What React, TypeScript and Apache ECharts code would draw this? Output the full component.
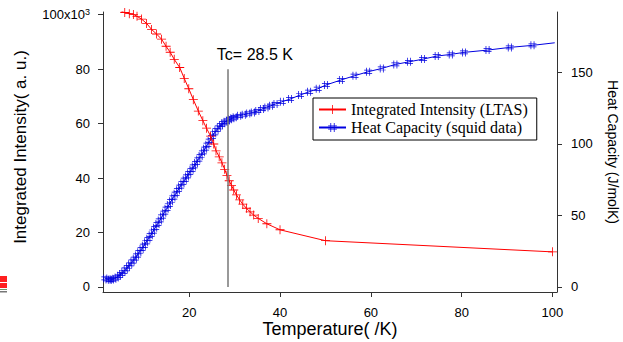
import React, { useEffect, useRef } from 'react';
import * as echarts from 'echarts';

// Integrated Intensity (LTAS), units of 10^3 a.u.
const redTemps = [4.7, 5.8, 6.8, 7.7, 8.5, 9.5, 10.6, 11.7, 12.8, 13.9, 14.9, 15.8, 16.7, 17.9, 18.9, 19.9, 20.9, 22.0, 23.0, 23.8, 24.7, 25.4, 25.9, 26.6, 27.2, 27.8, 28.3, 28.8, 29.3, 29.8, 30.4, 31.1, 31.8, 32.6, 33.4, 34.2, 35.2, 37.1, 40, 50, 100];
const intensity = [101.6, 100.8, 100.4, 100.1, 99.4, 98.4, 96.8, 94.6, 92.9, 91.0, 88.4, 86.2, 83.6, 80.6, 76.6, 72.8, 68.8, 64.6, 61.1, 58.3, 55.4, 52.5, 50.0, 47.8, 45.6, 43.2, 41.0, 39.0, 37.3, 35.6, 33.8, 32.0, 30.4, 28.9, 27.6, 26.4, 25.2, 23.2, 21.0, 17.0, 12.9];

// Heat Capacity (squid data), J/molK
const hcTemps = [1.5, 2, 2.5, 3, 3.5, 4, 4.5, 5, 5.5, 6, 6.5, 7, 7.5, 8, 8.5, 9, 9.5, 10, 10.5, 11, 11.5, 12, 12.5, 13, 13.5, 14, 14.5, 15, 15.5, 16, 16.5, 17, 17.5, 18, 18.5, 19, 19.5, 20, 20.5, 21, 21.5, 22, 22.5, 23, 23.5, 24, 24.5, 25, 25.5, 26, 26.5, 27, 27.5, 28, 28.5, 29, 29.5, 30, 31, 32, 33, 34, 35, 36, 37, 38, 39, 40.4, 42.2, 44.4, 46.4, 48.3, 50.1, 53.4, 56.4, 59.4, 62.4, 65.4, 68.4, 71.5, 74.5, 77.6, 80.5, 85.7, 90.6, 95.6];
const heatCap = [6.0, 5.3, 5.0, 5.2, 5.8, 6.6, 7.8, 9.0, 10.6, 12.3, 14.0, 15.8, 17.8, 19.8, 22.0, 24.3, 26.5, 28.8, 31.2, 33.6, 36.2, 38.7, 41.3, 43.9, 46.5, 49.2, 51.9, 54.6, 57.2, 59.9, 62.5, 65.1, 67.6, 70.1, 72.5, 74.9, 77.2, 79.5, 81.8, 84.2, 86.6, 89.0, 91.5, 94.0, 96.6, 99.3, 102.1, 104.8, 107.3, 109.5, 111.4, 113.0, 114.3, 115.4, 116.3, 117.1, 117.8, 118.5, 119.5, 120.3, 121.1, 121.9, 122.8, 124.2, 125.4, 126.6, 127.8, 129.3, 131.2, 134.0, 136.3, 138.4, 141.0, 144.5, 147.5, 150.3, 152.6, 155.4, 157.2, 159.1, 161.2, 162.4, 163.8, 165.4, 167.3, 168.7];
const hcLineEnd = [100.5, 170.5];

const xTicks = [20, 40, 60, 80, 100];
const leftTicks = [0, 20, 40, 60, 80, 100];
const rightTicks = [0, 50, 100, 150];

const TC = 28.5;
const TC_TOP = 80;
const TC_LABEL = 'Tc= 28.5 K';

const SANS = "'Liberation Sans', Arial, sans-serif";
const SERIF = "'Liberation Serif', serif";
const AXIS_COLOR = '#333';

const PLUS = 'path://M4.5,0h0.9v10h-0.9zM0,4.5h10v0.9h-10z';
const HASH = 'path://M2.6,0h0.9v10h-0.9zM6.5,0h0.9v10h-0.9zM0,2.6h10v0.9h-10zM0,6.5h10v0.9h-10z';

export default function App() {
  const ref = useRef<HTMLDivElement>(null);
  useEffect(() => {
    document.body.style.margin = '0';
    const chart = echarts.init(ref.current!, null, { renderer: 'svg' });
    const redData = redTemps.map((t, i) => [t, intensity[i]]);
    const blueData: any[] = hcTemps.map((t, i) => [t, heatCap[i]]);
    blueData.push({ value: hcLineEnd, symbol: 'none' });

    const axisCommon = {
      axisLine: { show: true, onZero: false, lineStyle: { color: AXIS_COLOR, width: 1 } },
      splitLine: { show: false },
      nameMoveOverlap: false,
    };

    chart.setOption({
      animation: false,
      backgroundColor: '#fff',
      grid: { left: 103, right: 66, top: 12, bottom: 50, containLabel: false, outerBoundsMode: 'none' },
      legend: {
        orient: 'vertical',
        left: 313,
        top: 98,
        padding: [3, 9, 4, 5],
        itemGap: 1,
        itemWidth: 27,
        itemHeight: 11,
        itemTextGap: 9,
        borderColor: '#000',
        borderWidth: 1,
        backgroundColor: '#fff',
        borderRadius: 0,
        textStyle: { fontFamily: SERIF, fontSize: 16, color: '#000', lineHeight: 17 },
        data: ['Integrated Intensity (LTAS)', 'Heat Capacity (squid data)'],
      },
      xAxis: {
        type: 'value',
        min: 1,
        max: 101,
        ...axisCommon,
        name: 'Temperature( /K)',
        nameLocation: 'middle',
        nameGap: 28,
        nameTextStyle: { fontFamily: SANS, fontSize: 18, color: '#000', lineHeight: 18 },
        axisTick: { show: true, inside: false, length: 5, customValues: xTicks, lineStyle: { color: AXIS_COLOR } },
        axisLabel: { customValues: xTicks, margin: 14, fontFamily: SANS, fontSize: 13, color: '#000', lineHeight: 13 },
      },
      yAxis: [
        {
          type: 'value',
          position: 'left',
          min: -1.84,
          max: 101,
          ...axisCommon,
          name: 'Integrated Intensity( a. u.)',
          nameLocation: 'middle',
          nameRotate: 90,
          nameGap: 74,
          nameTextStyle: { fontFamily: SANS, fontSize: 17, color: '#000', padding: [0, 0, 0, 10] },
          axisTick: { show: true, length: 5, customValues: leftTicks, lineStyle: { color: AXIS_COLOR } },
          axisLabel: {
            customValues: leftTicks,
            margin: 13,
            fontFamily: SANS,
            fontSize: 13,
            color: '#000',
            formatter: (v: number) => (v === 100 ? '100x10{sup|3}' : String(v)),
            rich: {
              sup: { fontSize: 9, verticalAlign: 'top', fontFamily: SANS, color: '#000', padding: [0, 0, 6, 0] },
            },
          },
        },
        {
          type: 'value',
          position: 'right',
          min: -3.5,
          max: 192,
          ...axisCommon,
          name: 'Heat Capacity (J/molK)',
          nameLocation: 'middle',
          nameRotate: -90,
          nameGap: 49,
          nameTextStyle: { fontFamily: SANS, fontSize: 14, color: '#000' },
          axisTick: { show: true, length: 5, customValues: rightTicks, lineStyle: { color: AXIS_COLOR } },
          axisLabel: { customValues: rightTicks, margin: 14, fontFamily: SANS, fontSize: 13, color: '#000' },
        },
      ],
      series: [
        {
          name: 'Heat Capacity (squid data)',
          type: 'line',
          yAxisIndex: 1,
          data: blueData,
          symbol: HASH,
          symbolSize: 8,
          showSymbol: true,
          showAllSymbol: true,
          lineStyle: { color: '#0000e0', width: 1 },
          itemStyle: { color: '#0000e0' },
          z: 2,
        },
        {
          name: 'Integrated Intensity (LTAS)',
          type: 'line',
          yAxisIndex: 0,
          data: redData,
          symbol: PLUS,
          symbolSize: 9,
          showSymbol: true,
          showAllSymbol: true,
          lineStyle: { color: '#ff0000', width: 1 },
          itemStyle: { color: '#ff0000' },
          z: 3,
          markLine: {
            silent: true,
            symbol: ['none', 'none'],
            label: { show: false },
            lineStyle: { color: '#777', width: 1.5, type: 'solid' },
            data: [[{ coord: [TC, 0] }, { coord: [TC, TC_TOP] }]],
          },
        },
      ],
    });

    const p = chart.convertToPixel({ xAxisIndex: 0, yAxisIndex: 0 }, [TC, TC_TOP]);
    chart.setOption({
      graphic: [
        {
          type: 'text',
          x: p[0] - 11,
          y: p[1] - 7,
          style: { text: TC_LABEL, fontFamily: SANS, fontSize: 16, fill: '#000', align: 'left', verticalAlign: 'bottom' },
        },
        { type: 'rect', shape: { x: 0, y: 276, width: 7, height: 6 }, style: { fill: '#ff2020' } },
        { type: 'rect', shape: { x: 0, y: 283, width: 7, height: 5 }, style: { fill: '#ff2020' } },
        { type: 'rect', shape: { x: 0, y: 289, width: 7, height: 1 }, style: { fill: '#6a9a6a' } },
        { type: 'rect', shape: { x: 0, y: 291, width: 7, height: 1.5 }, style: { fill: '#777' } },
      ],
    });
    return () => chart.dispose();
  }, []);
  return <div ref={ref} style={{ position: 'absolute', left: 0, top: 0, width: 623, height: 342 }} />;
}
